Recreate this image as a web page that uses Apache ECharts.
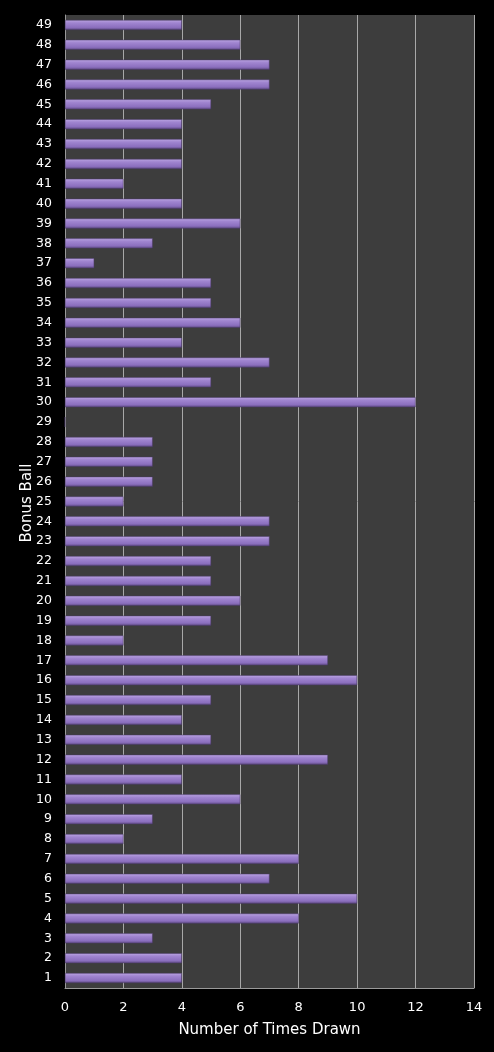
<!DOCTYPE html>
<html>
<head>
<meta charset="utf-8">
<script src="https://cdn.jsdelivr.net/npm/echarts@6/dist/echarts.min.js"></script>
<style>
  html, body { margin: 0; padding: 0; background: #000; }
  #chart { width: 494px; height: 1052px; }
</style>
</head>
<body>
<div id="chart"></div>
<script>
// bonus ball numbers, bottom to top
var balls = [];
for (var i = 1; i <= 49; i++) balls.push(String(i));

// times drawn, ball 1..49
var timesDrawn = [
    4, 4, 3, 8, 10, 7, 8, 2, 3, 6,
    4, 9, 5, 4, 5, 10, 9, 2, 5, 6,
    5, 5, 7, 7, 2, 3, 3, 3, 0, 12,
    5, 7, 4, 6, 5, 5, 1, 3, 6, 4,
    2, 4, 4, 4, 5, 7, 7, 6, 4
];

var xTicks = [0, 2, 4, 6, 8, 10, 12, 14];

var chart = echarts.init(document.getElementById('chart'), null, {renderer: 'canvas'});

var barColor = new echarts.graphic.LinearGradient(0, 0, 0, 1, [
    {offset: 0, color: '#bba5e2'},
    {offset: 0.3, color: '#a085d0'},
    {offset: 0.75, color: '#8b6fbe'},
    {offset: 1, color: '#5c4880'}
]);

chart.setOption({
    backgroundColor: '#000000',
    animation: false,
    textStyle: {fontFamily: 'DejaVu Sans'},
    grid: {
        left: 65,
        right: 20,
        top: 15,
        bottom: 64,
        show: true,
        backgroundColor: '#3d3d3d',
        borderWidth: 0
    },
    // y axis title placed by hand, the axis name kept drifting left
    graphic: [{
        type: 'text',
        x: 27,
        y: 503,
        rotation: Math.PI / 2,
        style: {
            text: 'Bonus Ball',
            fill: '#ffffff',
            font: '15px "DejaVu Sans"',
            align: 'center',
            verticalAlign: 'middle'
        }
    }],
    xAxis: {
        type: 'value',
        min: xTicks[0],
        max: xTicks[xTicks.length - 1],
        interval: 2,
        name: 'Number of Times Drawn',
        nameLocation: 'middle',
        nameGap: 35,
        nameTextStyle: {color: '#ffffff', fontSize: 15},
        axisLine: {show: true, lineStyle: {color: '#9a9a9a', width: 1}},
        axisTick: {show: false},
        axisLabel: {color: '#ffffff', fontSize: 13, margin: 13},
        splitLine: {show: true, lineStyle: {color: '#a8a8a8', width: 1}}
    },
    yAxis: {
        type: 'category',
        data: balls,
        axisLine: {show: true, lineStyle: {color: '#9a9a9a', width: 1}},
        axisTick: {show: false},
        axisLabel: {color: '#ffffff', fontSize: 12.5, margin: 13, interval: 0},
        splitLine: {show: false}
    },
    series: [{
        type: 'bar',
        data: timesDrawn,
        barWidth: 10,
        itemStyle: {
            color: barColor,
            borderColor: '#4a3a68',
            borderWidth: 0.5
        }
    }]
});
</script>
</body>
</html>
